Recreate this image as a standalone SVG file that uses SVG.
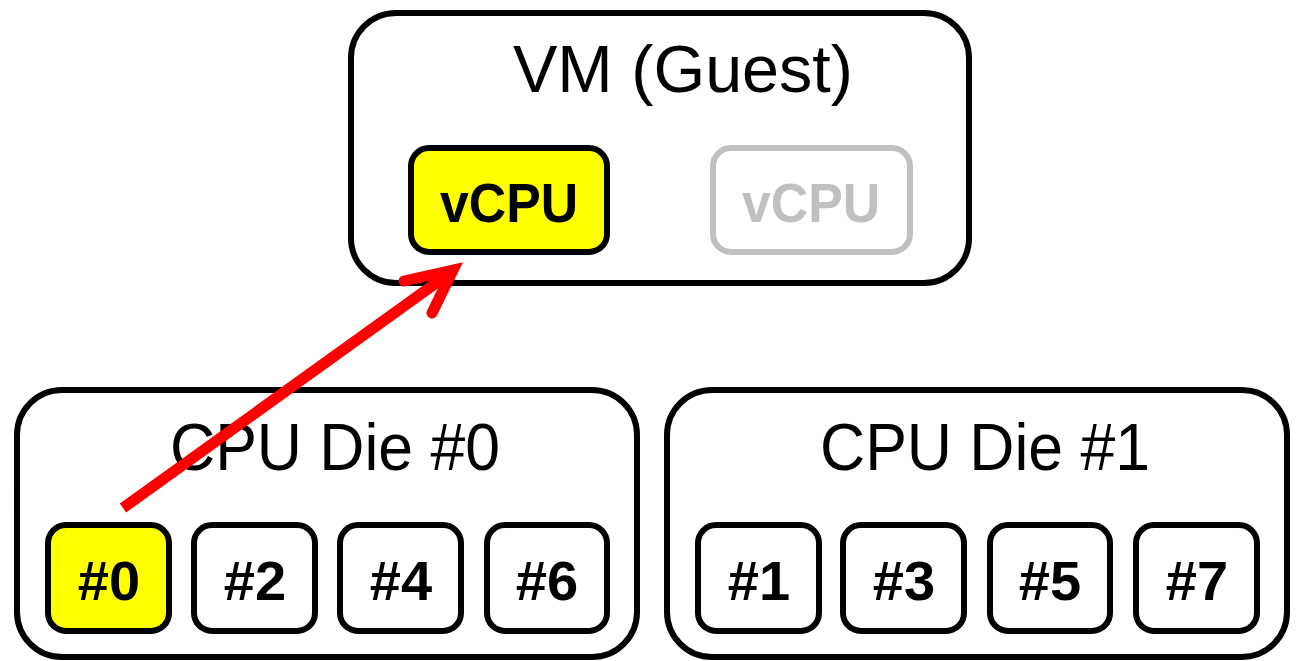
<svg xmlns="http://www.w3.org/2000/svg" width="1297" height="661" viewBox="0 0 1297 661">
  <style>
    .panel { fill: #ffffff; stroke: #000000; stroke-width: 6; }
    .core { fill: #ffffff; stroke: #000000; stroke-width: 6; }
    .active { fill: #ffff00; }
    .idle { fill: #ffffff; stroke: #c0c0c0; stroke-width: 6; }
    .title { font-family: "Liberation Sans", Arial, sans-serif; font-size: 66px; fill: #000000; text-anchor: middle; }
    .label { font-family: "Liberation Sans", Arial, sans-serif; font-weight: bold; font-size: 56px; fill: #000000; text-anchor: middle; }
    .label.dim { fill: #c0c0c0; }
    .link { fill: none; stroke: #ff0000; stroke-width: 11; }
  </style>
  <rect width="1297" height="661" fill="#ffffff"/>

  <!-- Guest VM with its two vCPUs -->
  <g id="vm">
    <rect class="panel" x="351" y="13" width="618" height="270" rx="45"/>
    <text class="title" x="683" y="92" textLength="340" lengthAdjust="spacingAndGlyphs">VM (Guest)</text>
  </g>
  <g id="vcpu-0">
    <rect class="core active" x="411" y="148" width="196" height="104" rx="18"/>
    <text class="label" x="509" y="222" textLength="138" lengthAdjust="spacingAndGlyphs">vCPU</text>
  </g>
  <g id="vcpu-1">
    <rect class="idle" x="713" y="148" width="197" height="104" rx="18"/>
    <text class="label dim" x="811" y="222" textLength="138" lengthAdjust="spacingAndGlyphs">vCPU</text>
  </g>

  <!-- Die #0: even cores -->
  <g id="die-0">
    <rect class="panel" x="17" y="390" width="620" height="267" rx="45"/>
    <text class="title" x="335" y="470" textLength="330" lengthAdjust="spacingAndGlyphs">CPU Die #0</text>
  </g>
  <g id="core-0">
    <rect class="core active" x="48" y="525" width="121" height="106" rx="18"/>
    <text class="label" x="109" y="600">#0</text>
  </g>
  <g id="core-2">
    <rect class="core" x="194" y="525" width="121" height="106" rx="18"/>
    <text class="label" x="255" y="600">#2</text>
  </g>
  <g id="core-4">
    <rect class="core" x="340" y="525" width="121" height="106" rx="18"/>
    <text class="label" x="401" y="600">#4</text>
  </g>
  <g id="core-6">
    <rect class="core" x="487" y="525" width="120" height="106" rx="18"/>
    <text class="label" x="547" y="600">#6</text>
  </g>

  <!-- Die #1: odd cores -->
  <g id="die-1">
    <rect class="panel" x="667" y="390" width="620" height="267" rx="45"/>
    <text class="title" x="985" y="470" textLength="330" lengthAdjust="spacingAndGlyphs">CPU Die #1</text>
  </g>
  <g id="core-1">
    <rect class="core" x="698" y="525" width="121" height="106" rx="18"/>
    <text class="label" x="759" y="600">#1</text>
  </g>
  <g id="core-3">
    <rect class="core" x="843" y="525" width="121" height="106" rx="18"/>
    <text class="label" x="904" y="600">#3</text>
  </g>
  <g id="core-5">
    <rect class="core" x="990" y="525" width="120" height="106" rx="18"/>
    <text class="label" x="1050" y="600">#5</text>
  </g>
  <g id="core-7">
    <rect class="core" x="1136" y="525" width="121" height="106" rx="18"/>
    <text class="label" x="1197" y="600">#7</text>
  </g>

  <!-- Pinning: physical core #0 backs the first vCPU -->
  <g id="connectors">
    <line class="link" x1="123" y1="508" x2="450" y2="273" stroke-linecap="butt"/>
    <polyline class="link" points="404,281 453,270 432,313" stroke-linecap="round" stroke-linejoin="miter"/>
  </g>
</svg>
